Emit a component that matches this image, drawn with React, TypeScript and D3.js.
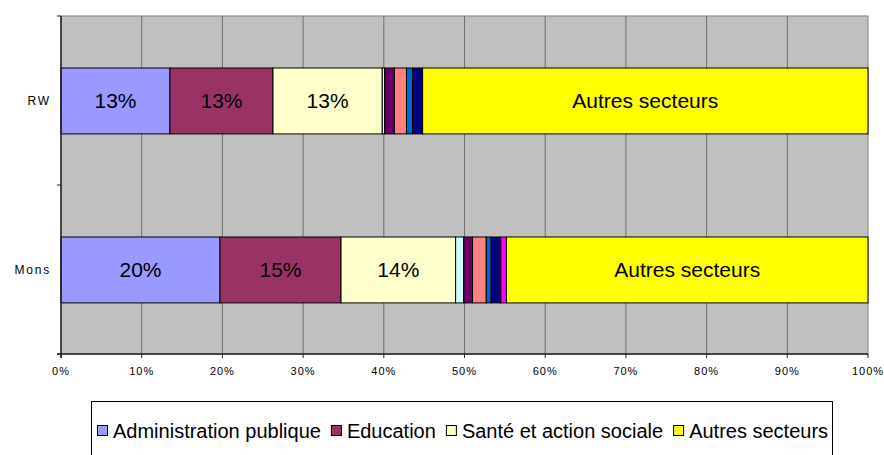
import React, { useEffect, useRef } from "react";
import * as d3 from "d3";

const categories = ["RW", "Mons"];
const seriesNames = [
  "Administration publique",
  "Education",
  "Santé et action sociale",
  "Secteur 4",
  "Secteur 5",
  "Secteur 6",
  "Secteur 7",
  "Secteur 8",
  "Secteur 9",
  "Autres secteurs",
];
const seriesColors = [
  "#9999FF",
  "#993366",
  "#FFFFCC",
  "#CCFFFF",
  "#660066",
  "#FF8080",
  "#0066CC",
  "#000080",
  "#FF00FF",
  "#FFFF00",
];
const valuesRW = [13.5, 12.77, 13.54, 0.3, 1.2, 1.5, 0.75, 1.25, 0, 55.19];
const valuesMons = [19.7, 15.0, 14.2, 1.0, 1.1, 1.7, 0.6, 1.2, 0.7, 44.8];
const barLabels = ["13%", "13%", "13%"];
const barLabelsMons = ["20%", "15%", "14%"];
const legendShown = [0, 1, 2, 9];
const xTicks = [0, 10, 20, 30, 40, 50, 60, 70, 80, 90, 100];

export default function App() {
  const ref = useRef<SVGSVGElement>(null);
  useEffect(() => {
    const svg = d3.select(ref.current);
    svg.selectAll("*").remove();
    const font = "Arial, 'Liberation Sans', sans-serif";
    const left = 61, right = 868, top = 16, bottom = 354;
    const x = d3.scaleLinear().domain([0, 100]).range([left, right]);
    const y = d3.scaleBand<string>().domain(categories).range([top, bottom]).padding(0);
    const barH = y.bandwidth() * 0.39;

    svg.append("rect").attr("x", left).attr("y", top).attr("width", right - left)
      .attr("height", bottom - top).attr("fill", "#C0C0C0").attr("stroke", "#808080").attr("stroke-width", 1);

    xTicks.slice(1, -1).forEach((t) => {
      svg.append("line").attr("x1", x(t)).attr("x2", x(t)).attr("y1", top).attr("y2", bottom)
        .attr("stroke", "#6f6f6f").attr("stroke-width", 1);
    });

    const data = [valuesRW, valuesMons];
    const labels = [barLabels, barLabelsMons];
    data.forEach((vals, ci) => {
      const cat = categories[ci];
      const yc = (y(cat) as number) + y.bandwidth() / 2;
      const y0 = Math.round(yc - barH / 2);
      let cum = 0;
      vals.forEach((v, si) => {
        const x0 = x(cum), x1 = x(cum + v);
        cum += v;
        if (v <= 0) return;
        svg.append("rect").attr("x", x0).attr("y", y0).attr("width", x1 - x0).attr("height", barH)
          .attr("fill", seriesColors[si]).attr("stroke", "#000").attr("stroke-width", 1);
        let label: string | null = null;
        if (si < 3) label = labels[ci][si];
        if (si === 9) label = seriesNames[9];
        if (label) {
          svg.append("text").attr("x", (x0 + x1) / 2).attr("y", y0 + barH / 2)
            .attr("text-anchor", "middle").attr("dominant-baseline", "central")
            .attr("font-family", font).attr("font-size", 21).attr("fill", "#000").text(label);
        }
      });
    });

    // axes
    svg.append("line").attr("x1", left).attr("x2", left).attr("y1", top).attr("y2", bottom + 4)
      .attr("stroke", "#222").attr("stroke-width", 1.5);
    svg.append("line").attr("x1", left - 4).attr("x2", right).attr("y1", bottom).attr("y2", bottom)
      .attr("stroke", "#222").attr("stroke-width", 1.5);
    [top, top + y.bandwidth(), bottom].forEach((yy) => {
      svg.append("line").attr("x1", left - 4).attr("x2", left).attr("y1", yy).attr("y2", yy)
        .attr("stroke", "#222").attr("stroke-width", 1);
    });
    xTicks.forEach((t) => {
      svg.append("line").attr("x1", x(t)).attr("x2", x(t)).attr("y1", bottom).attr("y2", bottom + 4)
        .attr("stroke", "#222").attr("stroke-width", 1);
      svg.append("text").attr("x", x(t)).attr("y", 375).attr("text-anchor", "middle")
        .attr("font-family", font).attr("font-size", 11).attr("letter-spacing", 1).attr("fill", "#000")
        .text(t + "%");
    });
    categories.forEach((c) => {
      svg.append("text").attr("x", 51).attr("y", (y(c) as number) + y.bandwidth() / 2 + 4)
        .attr("text-anchor", "end").attr("font-family", font).attr("font-size", 12)
        .attr("letter-spacing", 1.8).attr("fill", "#000").text(c);
    });

    // legend
    svg.append("rect").attr("x", 91.5).attr("y", 401.5).attr("width", 741).attr("height", 70)
      .attr("fill", "#fff").attr("stroke", "#000").attr("stroke-width", 1);
    let lx = 97;
    const ly = 431;
    legendShown.forEach((si) => {
      svg.append("rect").attr("x", lx + 0.5).attr("y", ly - 5.5).attr("width", 10).attr("height", 10)
        .attr("fill", seriesColors[si]).attr("stroke", "#000").attr("stroke-width", 1);
      const t = svg.append("text").attr("x", lx + 16).attr("y", ly + 7).attr("font-family", font)
        .attr("font-size", 20).attr("fill", "#000").text(seriesNames[si]);
      const w = (t.node() as SVGTextElement).getComputedTextLength();
      lx += 16 + w + 10;
    });
  }, []);
  return (
    <svg ref={ref} width={884} height={455}
      style={{ position: "absolute", left: 0, top: 0, background: "#fff" }} />
  );
}
